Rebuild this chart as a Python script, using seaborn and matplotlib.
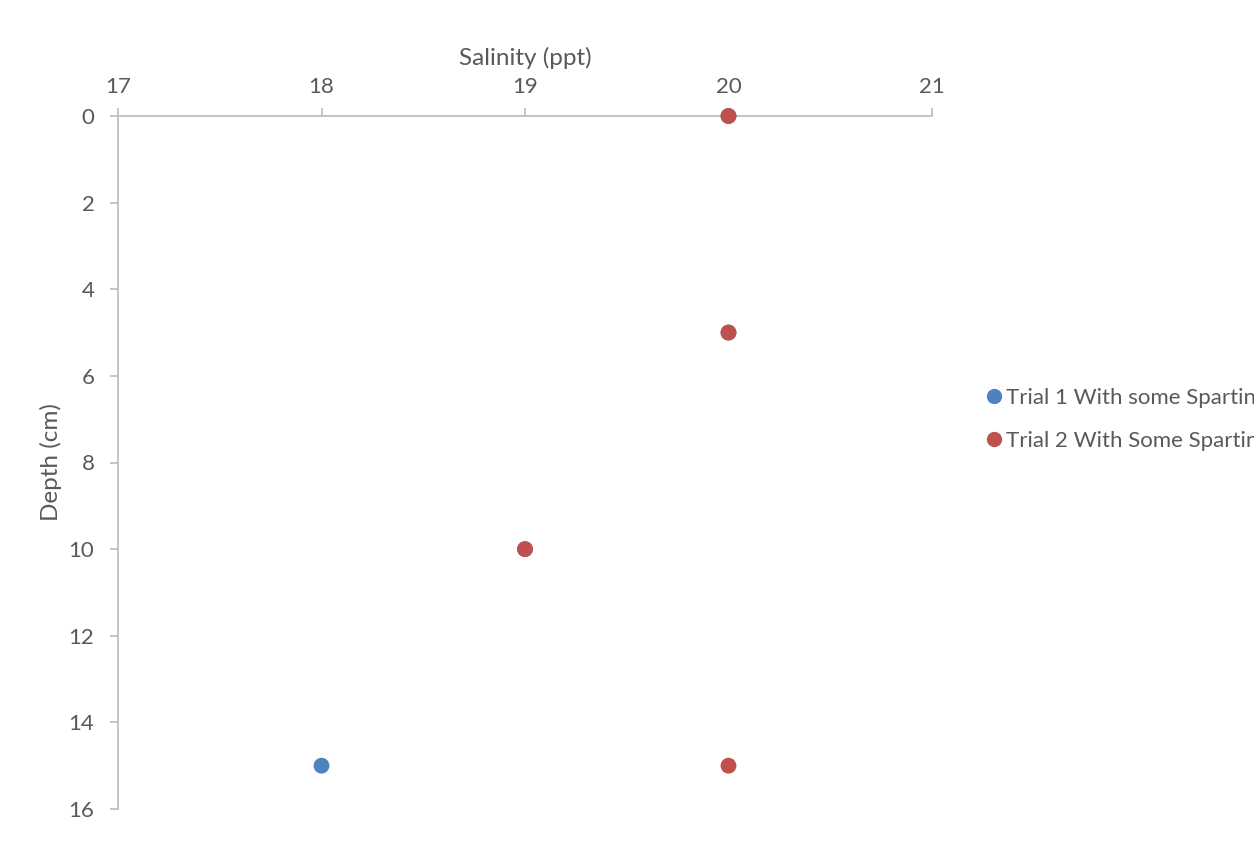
import matplotlib
matplotlib.use("Agg")
import matplotlib.pyplot as plt
import seaborn as sns
import pandas as pd

# Salinity profile readings by depth
depth_cm = [0, 5, 10, 15]
trial1_salinity = [20, 20, 19, 18]
trial2_salinity = [20, 20, 19, 20]
series_names = ["Trial 1 With some Spartina", "Trial 2 With Some Spartina"]
series_colors = ["#4F81BD", "#C0504D"]
x_ticks = [17, 18, 19, 20, 21]
y_ticks = [0, 2, 4, 6, 8, 10, 12, 14, 16]

df = pd.DataFrame({
    "Salinity (ppt)": trial1_salinity + trial2_salinity,
    "Depth (cm)": depth_cm + depth_cm,
    "Series": [series_names[0]] * len(depth_cm) + [series_names[1]] * len(depth_cm),
})

sns.set_theme(style="white")
plt.rcParams["font.family"] = ["Lato", "DejaVu Sans"]
text_color = "#595959"
axis_color = "#BFBFBF"

fig = plt.figure(figsize=(12.54, 8.57), dpi=100)
ax = fig.add_axes([118 / 1254, 1 - 809 / 857, (932 - 118) / 1254, (809 - 116) / 857])

sns.scatterplot(
    data=df, x="Salinity (ppt)", y="Depth (cm)", hue="Series",
    palette=dict(zip(series_names, series_colors)),
    s=130, edgecolor="none", ax=ax, legend=False, clip_on=False, zorder=3,
)

ax.set_xlim(17, 21)
ax.set_ylim(16, 0)
ax.set_xticks(x_ticks)
ax.set_yticks(y_ticks)
ax.xaxis.tick_top()
ax.xaxis.set_label_position("top")

for side in ["right", "bottom"]:
    ax.spines[side].set_visible(False)
for side in ["left", "top"]:
    ax.spines[side].set_color(axis_color)
    ax.spines[side].set_linewidth(1.3)

ax.tick_params(axis="both", which="major", direction="out", length=6, width=1.3,
               color=axis_color, labelcolor=text_color, labelsize=16)
ax.tick_params(axis="x", top=True, bottom=False, pad=8)
ax.tick_params(axis="y", left=True, pad=11)
ax.set_xlabel("Salinity (ppt)", fontsize=17.5, color=text_color, labelpad=8)
ax.set_ylabel("Depth (cm)", fontsize=17.5, color=text_color)
ax.yaxis.set_label_coords((62 - 118) / 814, 0.5)

handles = [
    plt.Line2D([], [], marker="o", linestyle="none", markersize=11,
               markerfacecolor=c, markeredgecolor="none")
    for c in series_colors
]
fig.legend(handles, series_names, loc="upper left",
           bbox_to_anchor=(974 / 1254, 1 - 379 / 857), frameon=False,
           fontsize=16, labelcolor=text_color, handletextpad=0.05,
           handlelength=1.0, labelspacing=1.05, borderaxespad=0)

fig.savefig("out.png", dpi=100)
